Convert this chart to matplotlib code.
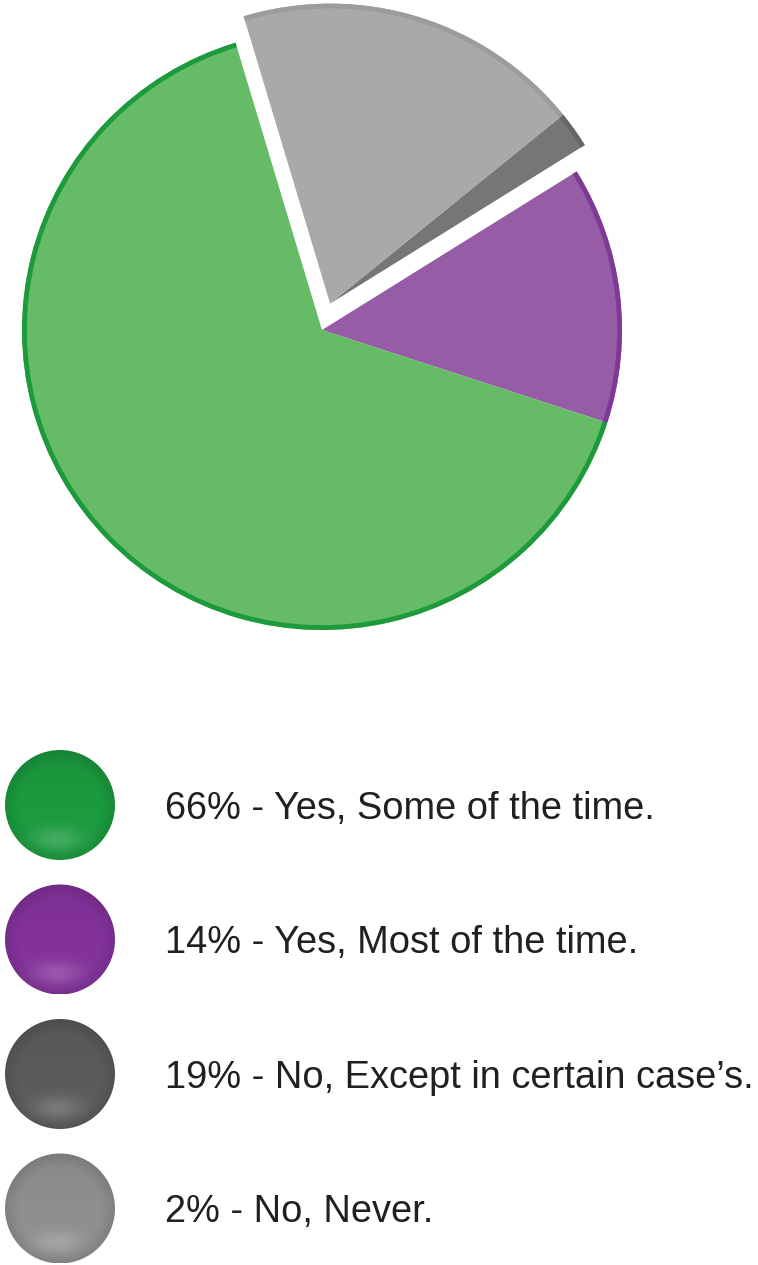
import matplotlib
matplotlib.use("Agg")
import numpy as np
import matplotlib.pyplot as plt
from matplotlib.patches import Circle
from matplotlib.colors import to_rgb

# ---- data ----
pie_labels = ["Yes, Most of the time.", "No, Never.", "No, Except in certain case\u2019s.", "Yes, Some of the time."]
pie_values = [14, 2, 19, 66]
pie_colors = ["#975ca6", "#767676", "#a9a9a9", "#66bb66"]
rim_colors = ["#7e3996", "#666666", "#9c9c9c", "#1c9a3c"]
pie_explode = [0.0, 0.092, 0.092, 0.0]

legend_pcts = ["66%", "14%", "19%", "2%"]
legend_texts = ["Yes, Some of the time.", "Yes, Most of the time.",
                "No, Except in certain case\u2019s.", "No, Never."]
legend_colors = ["#1b9a3e", "#83329a", "#5b5b5b", "#8f8f8f"]

W, H = 758, 1265
fig = plt.figure(figsize=(W / 100, H / 100), dpi=100)
fig.patch.set_facecolor("white")

# ---- pie axes (center at px (322,330), radius 300 px) ----
R = 300.0
half = 1.1 * R
cx, cy = 322, 330
ax = fig.add_axes([(cx - half) / W, (H - cy - half) / H, 2 * half / W, 2 * half / H])
w_fill, _ = ax.pie(pie_values, colors=pie_colors, explode=pie_explode, startangle=-18,
                   counterclock=True, radius=1.0, wedgeprops=dict(linewidth=0))
w_rim, _ = ax.pie(pie_values, colors=rim_colors, explode=pie_explode, startangle=-18,
                  counterclock=True, radius=1.0, wedgeprops=dict(width=0.016, linewidth=0))
# the two grey wedges are pulled out together, as one piece
for ws in (w_fill, w_rim):
    ws[1].set_center(ws[2].center)
ax.set_xlim(-1.1, 1.1)
ax.set_ylim(-1.1, 1.1)
ax.set_aspect("equal")
ax.axis("off")

# ---- legend axes in pixel coordinates ----
lax = fig.add_axes([0, 0, 1, 1], zorder=-1)
lax.set_xlim(0, W)
lax.set_ylim(H, 0)
lax.axis("off")

n = 120
gx, gy = np.meshgrid(np.linspace(-1, 1, n), np.linspace(-1, 1, n))
rr = np.sqrt(gx ** 2 + gy ** 2)
hl = 0.18 * np.exp(-((gx + 0.05) / 0.45) ** 2 - ((gy - 0.62) / 0.22) ** 2)
shade = 1 - 0.10 * np.clip((rr - 0.75) / 0.25, 0, 1) - 0.05 * np.clip(-gy, 0, 1)

y0 = 805
dy = 134.5
rad = 55
for i, (p, t, c) in enumerate(zip(legend_pcts, legend_texts, legend_colors)):
    yc = y0 + i * dy
    base = np.array(to_rgb(c))
    img = base[None, None, :] * shade[..., None]
    img = img * (1 - hl[..., None]) + hl[..., None]
    img = np.clip(img, 0, 1)
    im = lax.imshow(img, extent=[60 - rad, 60 + rad, yc + rad, yc - rad],
                    origin="upper", interpolation="bilinear", zorder=1)
    clip = Circle((60, yc), rad, transform=lax.transData, facecolor="none", edgecolor="none")
    lax.add_patch(clip)
    im.set_clip_path(clip)
    lax.text(165, yc + 13.5, f"{p} - {t}", fontsize=27.4, color="#231f20",
             family=["Liberation Sans", "DejaVu Sans"], va="baseline", ha="left")

lax.set_xlim(0, W)
lax.set_ylim(H, 0)
lax.set_aspect("auto")

fig.savefig("out.png", dpi=100, facecolor="white")
